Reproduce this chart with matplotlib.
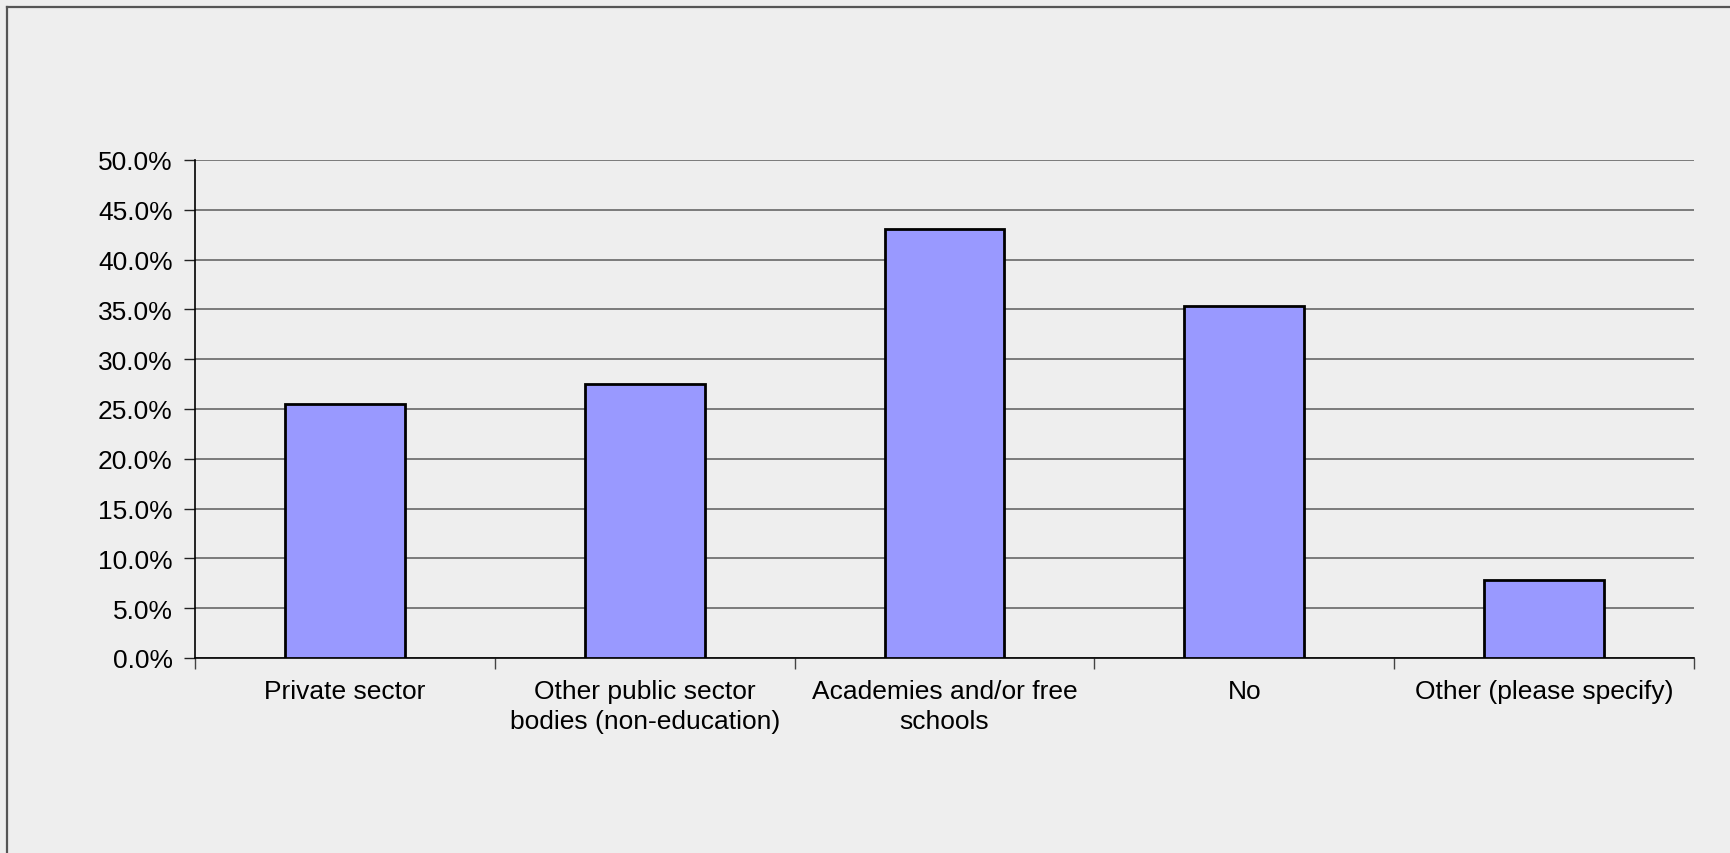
import matplotlib
matplotlib.use("Agg")
import matplotlib.pyplot as plt
from matplotlib.lines import Line2D
from matplotlib.ticker import FixedLocator, FuncFormatter
import numpy as np

categories = ["Private sector",
              "Other public sector\nbodies (non-education)",
              "Academies and/or free\nschools",
              "No",
              "Other (please specify)"]
values = [25.5, 27.5, 43.1, 35.3, 7.8]
yticks = [0, 5, 10, 15, 20, 25, 30, 35, 40, 45, 50]

plt.rcParams['font.family'] = ['Liberation Sans', 'DejaVu Sans']

fig = plt.figure(figsize=(17.3, 8.54), dpi=100)
fig.patch.set_facecolor('#EEEEEE')
ax = fig.add_axes([195 / 1730, 1 - 659 / 854, (1694 - 195) / 1730, (659 - 161) / 854])
ax.set_facecolor('#EEEEEE')

x = np.arange(len(categories))
ax.bar(x, values, width=0.4, color='#9999FF', edgecolor='black', linewidth=2.0, zorder=3)

ax.set_xlim(-0.5, len(categories) - 0.5)
ax.set_ylim(0, 50)
ax.set_yticks(yticks)
ax.yaxis.set_major_formatter(FuncFormatter(lambda v, p: '{:.1f}%'.format(v)))
ax.grid(axis='y', color='#7A7A7A', linewidth=1.4, zorder=0)

ax.set_xticks(x)
ax.set_xticklabels(categories, fontsize=19, linespacing=1.3, va='top')
ax.xaxis.set_minor_locator(FixedLocator(np.arange(-0.5, len(categories), 1.0)))
ax.tick_params(axis='x', which='major', length=0, pad=15)
ax.tick_params(axis='x', which='minor', length=8, width=1, color='#444444', direction='out')
ax.tick_params(axis='y', length=8, width=1, color='#222222', pad=8, labelsize=19)

for side in ['top', 'right']:
    ax.spines[side].set_visible(False)
ax.spines['left'].set_color('black')
ax.spines['bottom'].set_color('black')
ax.spines['left'].set_linewidth(1.2)
ax.spines['bottom'].set_linewidth(1.2)

# outer chart frame (only left and top edges are visible)
fig.add_artist(Line2D([7 / 1730, 7 / 1730], [0, 1 - 8 / 854], transform=fig.transFigure,
                      color='#555555', linewidth=1.6))
fig.add_artist(Line2D([7 / 1730, 1], [1 - 8 / 854, 1 - 8 / 854], transform=fig.transFigure,
                      color='#555555', linewidth=1.6))

fig.savefig('out.png', dpi=100, facecolor=fig.get_facecolor())
